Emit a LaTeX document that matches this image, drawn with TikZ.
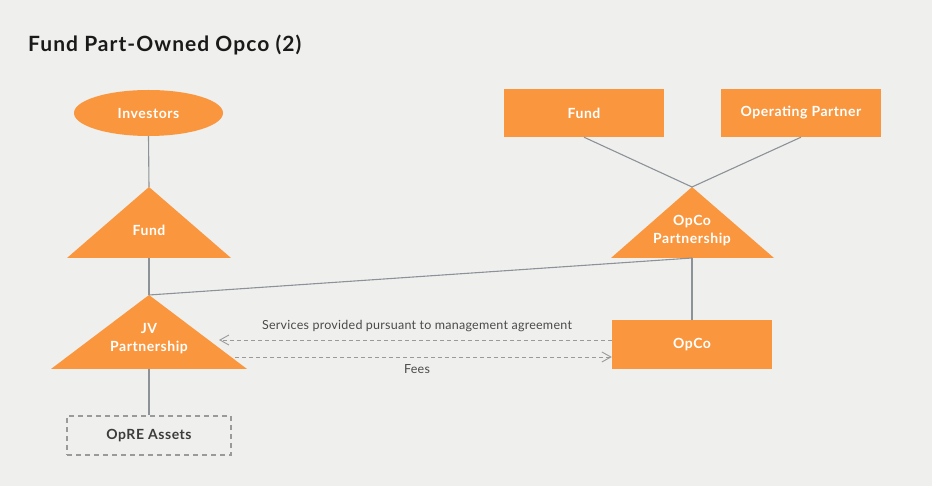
\documentclass[tikz,border=0pt]{standalone}
\usepackage{fontspec}
\setmainfont{Lato}
\newfontfamily\ttlfont[LetterSpace=5]{Lato}
\newfontfamily\lblfont[LetterSpace=4]{Lato}
\newfontfamily\notefont[LetterSpace=2]{Lato}
\usetikzlibrary{arrows.meta,shapes.geometric}
\definecolor{bg}{HTML}{EFEFED}
\definecolor{org}{HTML}{FA963D}
\definecolor{ln}{HTML}{8C9298}
\definecolor{dsh}{HTML}{9A9A9A}
\definecolor{txt}{HTML}{4A4A4A}
\definecolor{ttl}{HTML}{1A1A1A}
\begin{document}
\begin{tikzpicture}[x=1pt,y=-1pt,
  lbl/.style={text=white, font=\lblfont\bfseries\fontsize{14}{18}\selectfont, align=center, inner sep=0pt},
  orgbox/.style={lbl, fill=org, draw=none, minimum width=160pt, minimum height=48pt},
  conn/.style={draw=ln, line width=1.1pt},
  flow/.style={draw=dsh, dash pattern=on 4pt off 3pt, line width=0.9pt,
    -{Straight Barb[length=9pt,width=10pt,line width=0.9pt]}},
  note/.style={text=txt, font=\notefont\fontsize{12.5}{14}\selectfont, inner sep=0pt}]
\fill[bg] (0,0) rectangle (932,486);
\useasboundingbox (0,0) rectangle (932,486);

% title
\node[anchor=base west, text=ttl, font=\ttlfont\bfseries\fontsize{21}{24}\selectfont, inner sep=0pt] (title) at (28,52) {Fund Part-Owned Opco (2)};

% left column
\node[ellipse, fill=org, minimum width=149pt, minimum height=46pt, lbl] (inv) at (148.5,113) {Investors};

\fill[org] (149,187) -- (231,258) -- (67,258) -- cycle;
\coordinate (fT) at (149,187);
\coordinate (fB) at (149,258);
\node[lbl] (fundL) at (149,230) {Fund};

\fill[org] (149,295) -- (247,369) -- (51,369) -- cycle;
\coordinate (jvT) at (149,295);
\coordinate (jvB) at (149,369);
\node[lbl] (jvL) at (149,339) {JV\\Partnership};

\node[draw=dsh, dash pattern=on 5pt off 4pt, line width=1.3pt, minimum width=164pt, minimum height=39pt,
  inner sep=0pt, text=ttl!85, font=\lblfont\bfseries\fontsize{14}{16}\selectfont] (opre) at (149,435.5) {OpRE Assets};

% right column
\node[orgbox] (fundBox) at (584,113) {Fund};
\node[orgbox] (opBox) at (801,113) {Operating Partner};

\fill[org] (692,187) -- (774,258) -- (611,258) -- cycle;
\coordinate (opT) at (692,187);
\coordinate (opB) at (692,258);
\node[lbl] (opL) at (692,230.5) {OpCo\\Partnership};

\node[orgbox, minimum height=49pt] (opco) at (692,344.5) {OpCo};

% connectors
\draw[conn] (inv.south) -- (fT);
\draw[conn] (fB) -- (jvT);
\draw[conn] (jvB) -- (opre.north);
\draw[conn] (fundBox.south) -- (opT);
\draw[conn] (opBox.south) -- (opT);
\draw[conn] (opB) -- (jvT);
\draw[conn] (opB) -- (opco.north);

% flows
\coordinate (svcEnd) at (219,340);
\coordinate (feeStart) at (235,357);
\draw[flow] (opco.west |- svcEnd) -- (svcEnd);
\draw[flow] (feeStart) -- (opco.west |- feeStart);
\node[note] (svc) at (417,326) {Services provided pursuant to management agreement};
\node[note] (fees) at (417,369) {Fees};
\end{tikzpicture}
\end{document}
